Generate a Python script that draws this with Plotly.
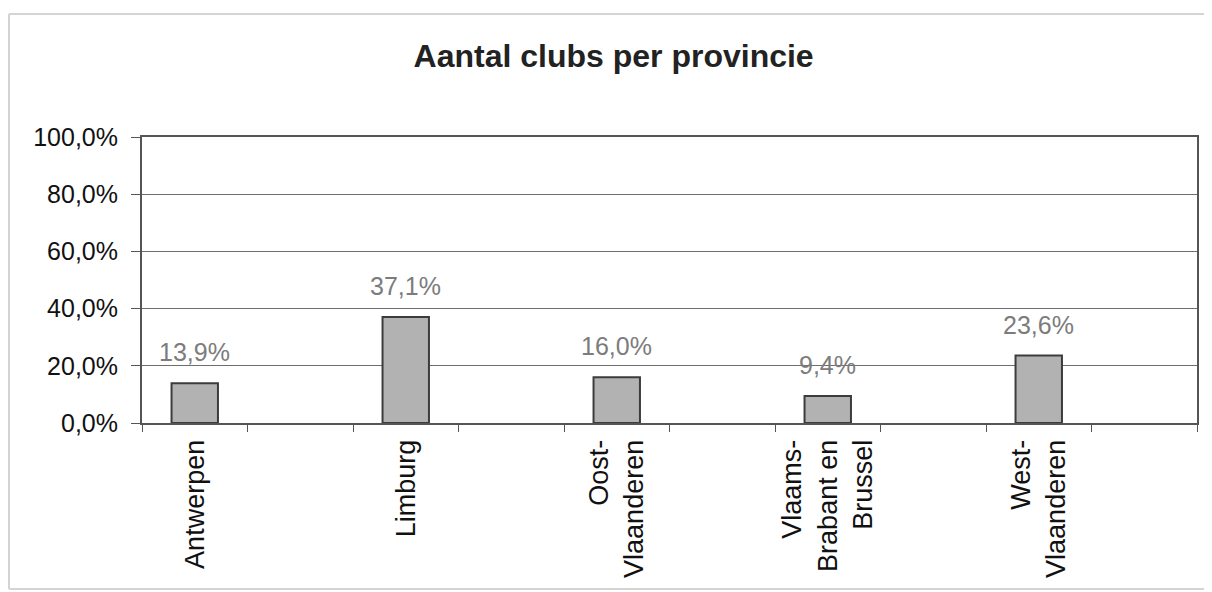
import plotly.graph_objects as go

provinces = ["Antwerpen", "Limburg", "Oost-<br>Vlaanderen",
             "Vlaams-<br>Brabant en<br>Brussel", "West-<br>Vlaanderen"]
shares = [0.139, 0.371, 0.160, 0.094, 0.236]

# every province sits in every other slot, with an empty slot after it
xpos = [2 * i for i in range(len(provinces))]

FONT = "Arial, Liberation Sans, sans-serif"

# the page body adds an 8px margin, so the figure is a bit smaller than the window
W, H = 1204, 584
L, R, T, B = 134, 15, 129, 169
PW, PH = W - L - R, H - T - B

fig = go.Figure()
fig.add_trace(go.Bar(
    x=xpos,
    y=shares,
    width=0.44,
    marker=dict(color="#b2b2b2", line=dict(color="#3c3c3c", width=2)),
    showlegend=False,
    hoverinfo="skip",
))

for x, v in zip(xpos, shares):
    fig.add_annotation(
        x=x, y=v, xref="x", yref="y",
        text=f"{v * 100:.1f}%".replace(".", ","),
        showarrow=False, yanchor="bottom", yshift=15,
        font=dict(family=FONT, size=25, color="#7c7c7c"),
    )

# light frame around the whole chart: top, left and bottom edges only
fx0, fx1 = (1 - L) / PW, (W + 20 - L) / PW
fy0, fy1 = (H - B - 581) / PH, (H - B - 6) / PH
frame = dict(color="#d4d4d4", width=2)
fig.add_shape(type="line", xref="paper", yref="paper", x0=fx0, x1=fx1, y0=fy1, y1=fy1,
              line=frame, layer="below")
fig.add_shape(type="line", xref="paper", yref="paper", x0=fx0, x1=fx1, y0=fy0, y1=fy0,
              line=frame, layer="below")
fig.add_shape(type="line", xref="paper", yref="paper", x0=fx0, x1=fx0, y0=fy0, y1=fy1,
              line=frame, layer="below")

fig.update_layout(
    width=W, height=H,
    margin=dict(l=L, r=R, t=T, b=B, autoexpand=False),
    paper_bgcolor="white", plot_bgcolor="white",
    separators=",.",
    title=dict(text="<b>Aantal clubs per provincie</b>", x=0.503, xanchor="center",
               y=0.918, yanchor="middle",
               font=dict(family=FONT, size=32, color="#222222")),
    font=dict(family=FONT, color="#111111"),
)

fig.update_xaxes(
    range=[-0.5, 9.5], automargin=False,
    tickvals=xpos, ticktext=provinces, tickangle=-90,
    ticks="", tickfont=dict(size=27, color="#111111"), ticklabelstandoff=4,
    minor=dict(ticks="outside", dtick=1, tick0=0.5, ticklen=7, tickcolor="#555555"),
    showgrid=False, zeroline=False,
    showline=True, linecolor="#555555", linewidth=2, mirror=True,
)
fig.update_yaxes(
    range=[0, 1], dtick=0.2, tickformat=".1%", automargin=False,
    ticks="outside", ticklen=9, tickcolor="#555555",
    tickfont=dict(size=25, color="#111111"), ticklabelstandoff=8,
    showgrid=True, gridcolor="#6e6e6e", gridwidth=1,
    zeroline=False,
    showline=True, linecolor="#555555", linewidth=2, mirror=True,
)

fig.write_html("out.html")
